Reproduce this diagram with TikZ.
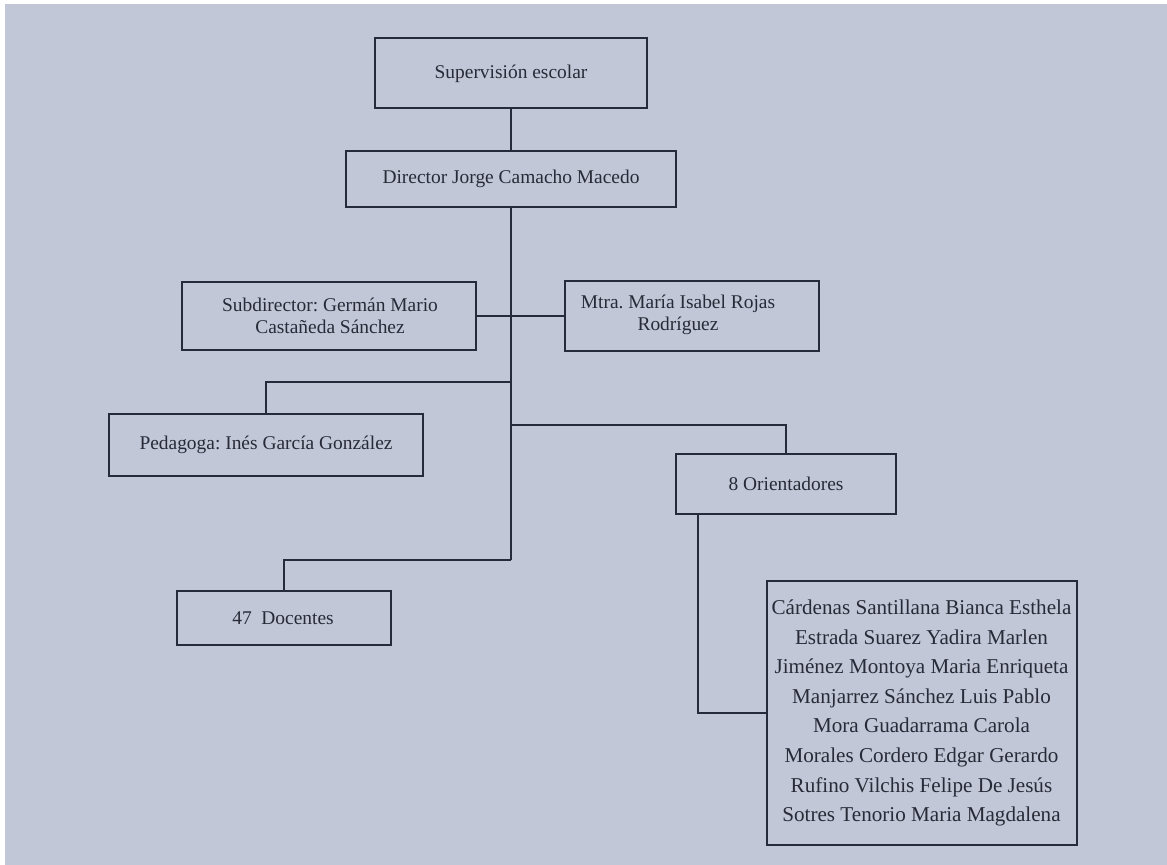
\documentclass[tikz,border=0pt]{standalone}
\usepackage{fontspec}
\setmainfont{Liberation Serif}
\frenchspacing
\definecolor{bgc}{RGB}{193,199,215}
\definecolor{linec}{RGB}{38,43,58}
\definecolor{txtc}{RGB}{40,43,55}
\begin{document}
\begin{tikzpicture}[x=1bp,y=-1bp,
  box/.style={draw=linec,line width=2.2bp,rectangle,inner sep=0pt},
  lbl/.style={text=txtc,font=\fontsize{19.5}{22}\selectfont,align=center,inner sep=0pt},
  conn/.style={draw=linec,line width=2.2bp}]
\useasboundingbox (0,0) rectangle (1167,865);
\fill[white] (0,0) rectangle (1167,865);
\fill[bgc] (5,4) rectangle (1167,865);
% boxes
\node[box,minimum width=272bp,minimum height=70bp] (sup) at (511,73) {};
\node[lbl] (suptext) at (511,74) {Supervisión escolar};
\node[box,minimum width=330bp,minimum height=56bp] (dir) at (511,179) {};
\node[lbl] (dirtext) at (511,179) {Director Jorge Camacho Macedo};
\node[box,minimum width=294bp,minimum height=68bp] (sub) at (329,316) {};
\node[lbl] (subtext) at (330,316) {Subdirector: Germán Mario\\Castañeda Sánchez};
\node[box,minimum width=254bp,minimum height=70bp] (mtra) at (692,316) {};
\node[lbl] (mtratext) at (678,315) {Mtra. María Isabel Rojas\\Rodríguez};
\node[box,minimum width=314bp,minimum height=62bp] (ped) at (266,445) {};
\node[lbl] (pedtext) at (266,445) {Pedagoga: Inés García González};
\node[box,minimum width=220bp,minimum height=60bp] (ori) at (786,484) {};
\node[lbl] (oritext) at (786,484) {8 Orientadores};
\node[box,minimum width=214bp,minimum height=54bp] (doc) at (284,618) {};
\node[lbl] (doctext) at (283,618) {47\ \ Docentes};
\node[box,minimum width=310bp,minimum height=264bp] (names) at (922,713) {};
\node[lbl,font=\fontsize{21.2}{29.7}\selectfont] (namestext) at (921.5,713) {Cárdenas Santillana Bianca Esthela\\Estrada Suarez Yadira Marlen\\Jiménez Montoya Maria Enriqueta\\Manjarrez Sánchez Luis Pablo\\Mora Guadarrama Carola\\Morales Cordero Edgar Gerardo\\Rufino Vilchis Felipe De Jesús\\Sotres Tenorio Maria Magdalena};
% junctions
\coordinate (jp) at (511,382);
\coordinate (jo) at (511,425);
\coordinate (tend) at (511,560);
% connectors
\draw[conn] (sup.south) -- (dir.north);
\draw[conn] (dir.south) -- (tend);
\draw[conn] (sub.east) -- (mtra.west);
\draw[conn] (jp) -| (ped.north);
\draw[conn] (jo) -| (ori.north);
\draw[conn] (tend) -| (doc.north);
\draw[conn] ([xshift=-88bp]ori.south) |- (names.west);
\end{tikzpicture}
\end{document}
